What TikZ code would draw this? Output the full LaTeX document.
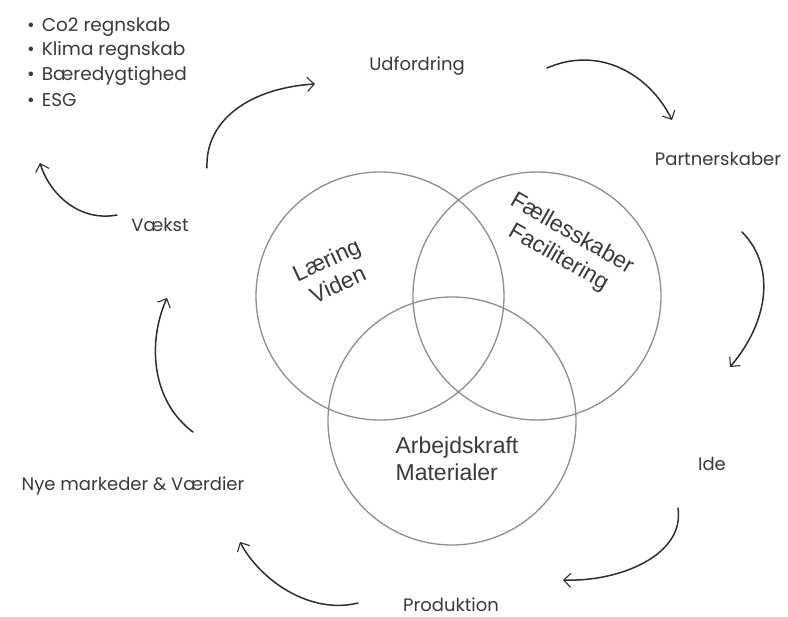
\documentclass[tikz,border=0pt]{standalone}
\usepackage{fontspec}
\setmainfont{Poppins}
\newfontfamily\arialf{Liberation Sans}
\usetikzlibrary{arrows.meta}
\definecolor{txt}{HTML}{3A3A3A}
\definecolor{ring}{HTML}{8E8E8E}
\definecolor{arr}{HTML}{2E2E2E}
\tikzset{
  lbl/.style={text=txt, font=\fontsize{18}{20}\selectfont, inner sep=0pt},
  bul/.style={text=txt, font=\fontsize{18.5}{20}\selectfont, inner sep=0pt, anchor=west},
  ringlbl/.style={text=txt, font=\arialf\fontsize{23}{27}\selectfont, inner sep=0pt, align=center},
  ringc/.style={draw=ring, line width=1.3pt},
  flow/.style={draw=arr, line width=1.5pt, line cap=round, -{Straight Barb[length=7pt,width=14pt,line width=1.1pt]}}
}
\begin{document}
\begin{tikzpicture}[x=1pt,y=-1pt]
\useasboundingbox[fill=white] (0,0) rectangle (788,617);
% Venn circles
\node[ringc, circle, minimum size=248pt, inner sep=0pt] (cl) at (380,296) {};
\node[ringc, circle, minimum size=248pt, inner sep=0pt] (cr) at (537,296) {};
\node[ringc, circle, minimum size=248pt, inner sep=0pt] (cb) at (452,421) {};
% circle labels
\node[ringlbl, rotate=25] (lv) at (332,272) {Læring\\Viden};
\node[ringlbl, rotate=-30] (ff) at (565,246) {Fællesskaber\\Facilitering};
\node[ringlbl, align=left] (am) at (457,459) {Arbejdskraft\\Materialer};
% cycle labels
\node[lbl] (udf) at (417,66) {Udfordring};
\node[lbl] (par) at (718,159) {Partnerskaber};
\node[lbl] (ide) at (712,464) {Ide};
\node[lbl] (pro) at (451,605) {Produktion};
\node[lbl] (nye) at (133,486) {Nye markeder \& Værdier};
\node[lbl] (vak) at (160,225) {Vækst};
% bullet list
\node[bul] (b1) at (27,27) {\textbullet\hspace{7pt}Co2 regnskab};
\node[bul] (b2) at (27,51) {\textbullet\hspace{7pt}Klima regnskab};
\node[bul] (b3) at (27,76) {\textbullet\hspace{7pt}Bæredygtighed};
\node[bul] (b4) at (27,100) {\textbullet\hspace{7pt}ESG};
% arrow end points
\coordinate (a1s) at (207,168); \coordinate (a1e) at (315,84);
\coordinate (a2s) at (547,68);  \coordinate (a2e) at (672,120);
\coordinate (a3s) at (742,232); \coordinate (a3e) at (730,367);
\coordinate (a4s) at (678,508); \coordinate (a4e) at (563,580);
\coordinate (a5s) at (358,603); \coordinate (a5e) at (240,542);
\coordinate (a6s) at (193,432); \coordinate (a6e) at (167,298);
\coordinate (a7s) at (117,215); \coordinate (a7e) at (40,163);
\draw[flow] (a1s) .. controls (205,120) and (250,88) .. (a1e);
\draw[flow] (a2s) .. controls (600,45) and (650,75) .. (a2e);
\draw[flow] (a3s) .. controls (775,265) and (770,320) .. (a3e);
\draw[flow] (a4s) .. controls (685,555) and (620,582) .. (a4e);
\draw[flow] (a5s) .. controls (310,615) and (260,580) .. (a5e);
\draw[flow] (a6s) .. controls (150,400) and (148,340) .. (a6e);
\draw[flow] (a7s) .. controls (80,222) and (50,195) .. (a7e);
\end{tikzpicture}
\end{document}
